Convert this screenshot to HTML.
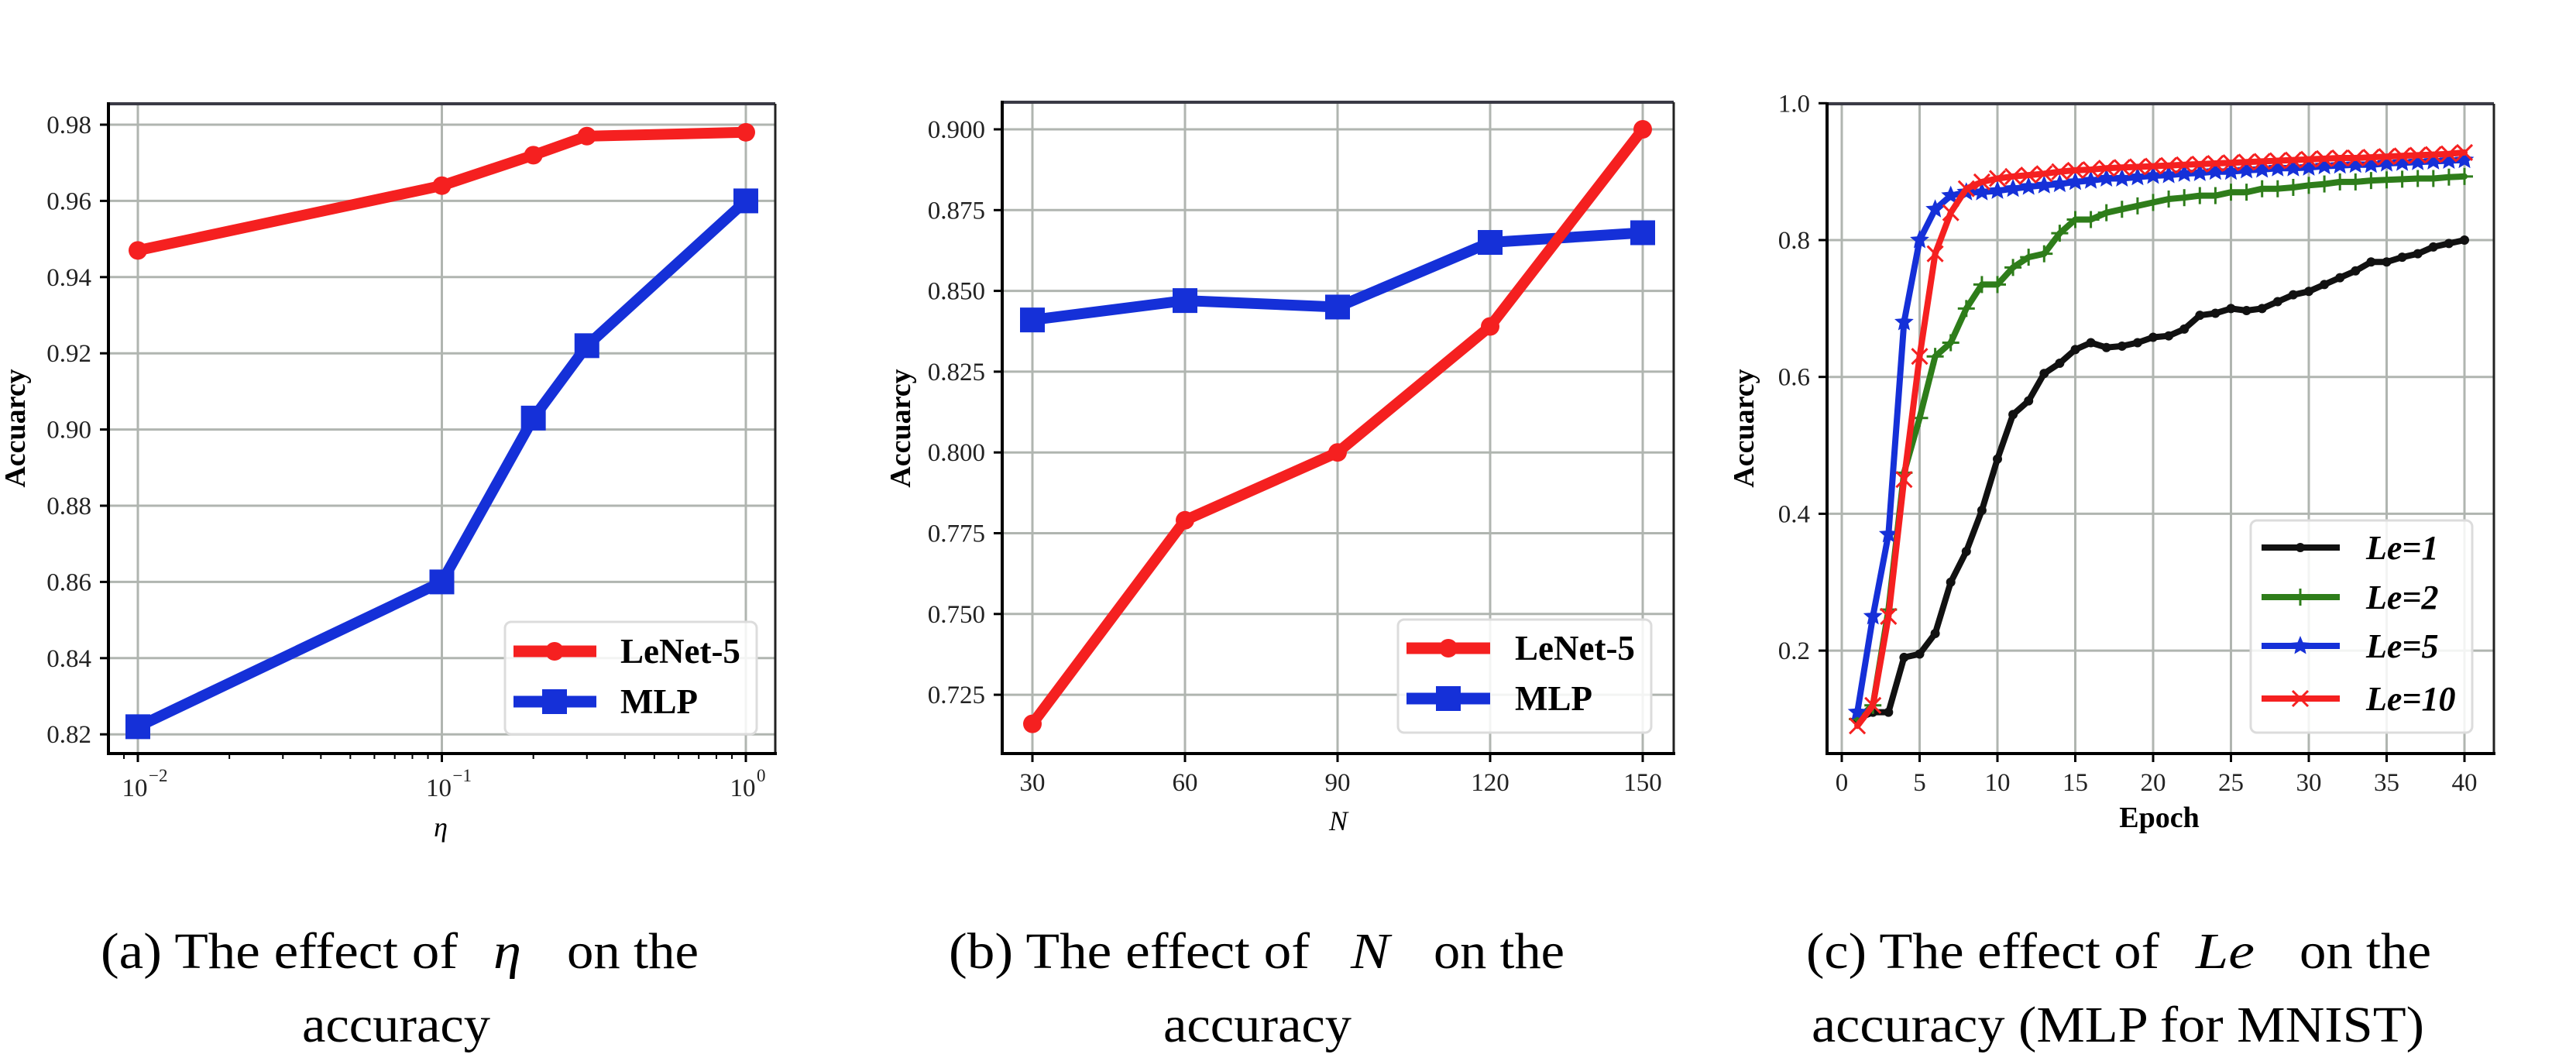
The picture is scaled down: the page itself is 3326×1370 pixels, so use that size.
<!DOCTYPE html>
<html><head><meta charset="utf-8">
<style>
html,body{margin:0;padding:0;background:#fff;}
svg{display:block;}
text{font-family:"Liberation Serif",serif;}
</style></head>
<body>
<svg id="s" xmlns="http://www.w3.org/2000/svg" width="3326" height="1370" viewBox="0 0 3326 1370">
<rect width="3326" height="1370" fill="#fff"/>
</svg>
<script>
const S=document.getElementById('s');
const NS='http://www.w3.org/2000/svg';
function el(t,a,txt){const e=document.createElementNS(NS,t);for(const k in a)e.setAttribute(k,a[k]);if(txt!==undefined)e.textContent=txt;S.appendChild(e);return e;}
function pl(pts,c,w){el('polyline',{points:pts.map(p=>p[0].toFixed(1)+','+p[1].toFixed(1)).join(' '),fill:'none',stroke:c,'stroke-width':w,'stroke-linejoin':'round','stroke-linecap':'round'});}
function marker(type,x,y,c,s){
 if(type=='o')el('circle',{cx:x,cy:y,r:s,fill:c});
 else if(type=='s')el('rect',{x:x-s,y:y-s,width:2*s,height:2*s,fill:c});
 else if(type=='.')el('circle',{cx:x,cy:y,r:s,fill:c});
 else if(type=='+'){el('line',{x1:x-s,y1:y,x2:x+s,y2:y,stroke:c,'stroke-width':3});el('line',{x1:x,y1:y-s,x2:x,y2:y+s,stroke:c,'stroke-width':3});}
 else if(type=='x'){el('line',{x1:x-s,y1:y-s,x2:x+s,y2:y+s,stroke:c,'stroke-width':3});el('line',{x1:x-s,y1:y+s,x2:x+s,y2:y-s,stroke:c,'stroke-width':3});}
 else if(type=='*'){let p=[];for(let i=0;i<10;i++){const r=i%2?s*0.45:s;const a=-Math.PI/2+i*Math.PI/5;p.push((x+r*Math.cos(a)).toFixed(1)+','+(y+r*Math.sin(a)).toFixed(1));}el('polygon',{points:p.join(' '),fill:c});}
}
function frame(L,R,T,B){
 el('line',{x1:L,y1:T,x2:R,y2:T,stroke:'#3a3a45','stroke-width':4});
 el('line',{x1:R,y1:T,x2:R,y2:B,stroke:'#222','stroke-width':3});
 el('line',{x1:L,y1:T-2,x2:L,y2:B+2,stroke:'#000','stroke-width':4});
 el('line',{x1:L-2,y1:B,x2:R+2,y2:B,stroke:'#000','stroke-width':4});
}
function ytick(L,R,y,lab){
 el('line',{x1:L,y1:y,x2:R,y2:y,stroke:'#b0b5b0','stroke-width':3});
 el('line',{x1:L-11,y1:y,x2:L,y2:y,stroke:'#000','stroke-width':3});
 el('text',{x:L-22,y:y+11,'font-size':33,'text-anchor':'end',fill:'#222'},lab);
}
function xtick(x,T,B,lab){
 el('line',{x1:x,y1:T,x2:x,y2:B,stroke:'#b0b5b0','stroke-width':3});
 el('line',{x1:x,y1:B,x2:x,y2:B+11,stroke:'#000','stroke-width':3});
 if(lab!==null)el('text',{x:x,y:B+48,'font-size':33,'text-anchor':'middle',fill:'#222'},lab);
}
function ylabel(x,y){el('text',{x:x,y:y,'font-size':38,'font-weight':'bold','text-anchor':'middle',transform:'rotate(-90 '+x+' '+y+')'},'Accuarcy');}
function legendBox(x1,y1,x2,y2){el('rect',{x:x1,y:y1,width:x2-x1,height:y2-y1,rx:8,fill:'#fff','fill-opacity':0.85,stroke:'#dcdcdc','stroke-width':3});}
function cap(parts,y){parts.forEach(p=>{const a={x:p[1],y:y,'font-size':66,textLength:p[2]-p[1],lengthAdjust:'spacingAndGlyphs'};if(p[3])a['font-style']='italic';el('text',a,p[0]);});}

// ===== Chart (a) =====
(function(){
 const L=140,R=1001,T=134,B=973;
 const X=v=>178+(Math.log10(v)+2)*392.5;
 const Y=v=>161+(0.98-v)/0.02*98.4;
 [0.98,0.96,0.94,0.92,0.90,0.88,0.86,0.84,0.82].forEach(v=>ytick(L,R,Y(v),v.toFixed(2)));
 [0.01,0.1,1].forEach(v=>xtick(X(v),T,B,null));
 [0.008,0.009,0.02,0.03,0.04,0.05,0.06,0.07,0.08,0.09,0.2,0.3,0.4,0.5,0.6,0.7,0.8,0.9].forEach(v=>{const x=X(v);if(x>L&&x<R)el('line',{x1:x,y1:B,x2:x,y2:B+7,stroke:'#000','stroke-width':2});});
 [[0.01,'−2'],[0.1,'−1'],[1,'0']].forEach(p=>{const x=X(p[0]);const t=el('text',{x:x-4,y:B+55,'font-size':33,'text-anchor':'middle',fill:'#222'},'10');el('text',{x:x+14,y:B+36,'font-size':23,fill:'#222'},p[1]);});
 el('text',{x:569,y:1080,'font-size':36,'font-style':'italic','text-anchor':'middle'},'η');
 ylabel(32,553);
 const xs=[0.01,0.1,0.2,0.3,1];
 const le=[0.947,0.964,0.972,0.977,0.978], ml=[0.822,0.860,0.903,0.922,0.960];
 const pr=xs.map((x,i)=>[X(x),Y(le[i])]), pb=xs.map((x,i)=>[X(x),Y(ml[i])]);
 pl(pr,'#f52020',14);pr.forEach(p=>marker('o',p[0],p[1],'#f52020',12));
 pl(pb,'#1530d8',14);pb.forEach(p=>marker('s',p[0],p[1],'#1530d8',16));
 frame(L,R,T,B);
 legendBox(652,803,977,948);
 el('line',{x1:663,y1:841,x2:770,y2:841,stroke:'#f52020','stroke-width':15});marker('o',716,841,'#f52020',12);
 el('line',{x1:663,y1:906,x2:770,y2:906,stroke:'#1530d8','stroke-width':15});marker('s',716,906,'#1530d8',16);
 el('text',{x:801,y:856,'font-size':45,'font-weight':'bold'},'LeNet-5');
 el('text',{x:801,y:921,'font-size':45,'font-weight':'bold'},'MLP');
 cap([['(a) The effect  of',130,591],['η',637,673,1],['on the',732,902]],1250);
 cap([['accuracy',390,633]],1345);
})();

// ===== Chart (b) =====
(function(){
 const L=1294,R=2161,T=132,B=973;
 const X=v=>1333+(v-30)/30*197;
 const Y=v=>167+(0.9-v)/0.025*104.3;
 [0.9,0.875,0.85,0.825,0.8,0.775,0.75,0.725].forEach(v=>ytick(L,R,Y(v),v.toFixed(3)));
 [30,60,90,120,150].forEach(v=>xtick(X(v),T,B,String(v)));
 el('text',{x:1728,y:1072,'font-size':36,'font-style':'italic','text-anchor':'middle'},'N');
 ylabel(1175,553);
 const xs=[30,60,90,120,150];
 const le=[0.716,0.779,0.800,0.839,0.900], ml=[0.841,0.847,0.845,0.865,0.868];
 const pr=xs.map((x,i)=>[X(x),Y(le[i])]), pb=xs.map((x,i)=>[X(x),Y(ml[i])]);
 pl(pb,'#1530d8',14);pb.forEach(p=>marker('s',p[0],p[1],'#1530d8',16));
 pl(pr,'#f52020',14);pr.forEach(p=>marker('o',p[0],p[1],'#f52020',12));
 frame(L,R,T,B);
 legendBox(1805,800,2132,946);
 el('line',{x1:1816,y1:837,x2:1924,y2:837,stroke:'#f52020','stroke-width':15});marker('o',1870,837,'#f52020',12);
 el('line',{x1:1816,y1:902,x2:1924,y2:902,stroke:'#1530d8','stroke-width':15});marker('s',1870,902,'#1530d8',16);
 el('text',{x:1956,y:852,'font-size':45,'font-weight':'bold'},'LeNet-5');
 el('text',{x:1956,y:917,'font-size':45,'font-weight':'bold'},'MLP');
 cap([['(b) The effect of',1225,1691],['N',1744,1794,1],['on the',1851,2020]],1250);
 cap([['accuracy',1502,1745]],1345);
})();

// ===== Chart (c) =====
(function(){
 const L=2359,R=3220,T=134,B=973;
 const X=v=>2378+v/5*100.5;
 const Y=v=>310+(0.8-v)/0.2*176.7;
 [1.0,0.8,0.6,0.4,0.2].forEach(v=>ytick(L,R,Y(v),v.toFixed(1)));
 [0,5,10,15,20,25,30,35,40].forEach(v=>xtick(X(v),T,B,String(v)));
 el('text',{x:2788,y:1068,'font-size':38,'font-weight':'bold','text-anchor':'middle'},'Epoch');
 ylabel(2264,553);
 const d1=[0.10,0.11,0.11,0.19,0.195,0.225,0.30,0.345,0.405,0.48,0.545,0.565,0.605,0.62,0.64,0.65,0.643,0.645,0.65,0.658,0.66,0.67,0.69,0.693,0.70,0.697,0.70,0.71,0.72,0.725,0.735,0.745,0.755,0.768,0.768,0.775,0.78,0.79,0.795,0.80];
 const d2=[0.10,0.12,0.26,0.46,0.54,0.63,0.65,0.70,0.735,0.735,0.76,0.775,0.78,0.81,0.83,0.83,0.84,0.845,0.85,0.855,0.86,0.862,0.865,0.865,0.87,0.87,0.875,0.875,0.877,0.88,0.882,0.885,0.885,0.887,0.888,0.889,0.89,0.89,0.892,0.893];
 const d5=[0.11,0.25,0.37,0.68,0.80,0.845,0.865,0.87,0.87,0.872,0.875,0.878,0.88,0.882,0.885,0.887,0.89,0.89,0.892,0.894,0.895,0.897,0.898,0.90,0.90,0.902,0.903,0.905,0.905,0.906,0.908,0.909,0.91,0.91,0.912,0.913,0.914,0.915,0.916,0.917];
 const d10=[0.09,0.12,0.25,0.45,0.63,0.78,0.84,0.875,0.885,0.89,0.893,0.895,0.897,0.9,0.902,0.903,0.905,0.906,0.907,0.908,0.909,0.91,0.911,0.912,0.913,0.914,0.915,0.916,0.917,0.918,0.919,0.92,0.92,0.921,0.922,0.923,0.924,0.925,0.926,0.928];
 const ser=[[d1,'#111','.',6],[d2,'#2e7d1a','+',11],[d5,'#1530d8','*',13],[d10,'#f52020','x',10]];
 ser.forEach(s=>{const p=s[0].map((v,i)=>[X(i+1),Y(v)]);pl(p,s[1],8);p.forEach(q=>marker(s[2],q[0],q[1],s[1],s[3]));});
 frame(L,R,T,B);
 legendBox(2906,672,3192,946);
 const rows=[707,771,834,902],labs=['Le=1','Le=2','Le=5','Le=10'];
 ser.forEach((s,i)=>{el('line',{x1:2920,y1:rows[i],x2:3021,y2:rows[i],stroke:s[1],'stroke-width':8});marker(s[2],2970,rows[i],s[1],s[3]);
  el('text',{x:3055,y:rows[i]+15,'font-size':44,'font-weight':'bold','font-style':'italic'},labs[i]);});
 cap([['(c) The effect of',2332,2788],['Le',2835,2911,1],['on the',2969,3139]],1250);
 cap([['accuracy (MLP for MNIST)',2339,3130]],1345);
})();
</script>
</body></html>
